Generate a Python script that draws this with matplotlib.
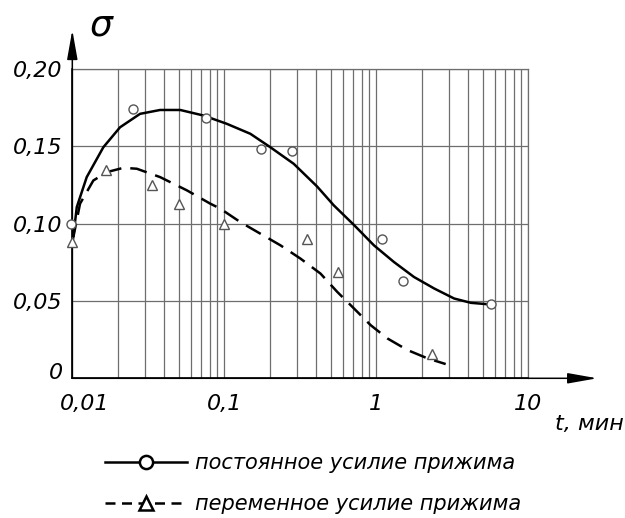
import matplotlib
matplotlib.use("Agg")
import matplotlib.pyplot as plt
import matplotlib.transforms as mtransforms
from matplotlib.lines import Line2D
from matplotlib.ticker import LogLocator, NullFormatter

# measured points, constant clamping force (circles)
t_const = [0.0098, 0.0252, 0.0757, 0.175, 0.279, 1.084, 1.507, 5.67]
s_const = [0.100, 0.174, 0.168, 0.148, 0.147, 0.090, 0.063, 0.048]

# measured points, variable clamping force (triangles)
t_var = [0.010, 0.0166, 0.0333, 0.050, 0.100, 0.351, 0.563, 2.34]
s_var = [0.088, 0.135, 0.125, 0.113, 0.100, 0.090, 0.069, 0.016]

# fitted curves
curve_const_t = [0.01015, 0.0107, 0.01244, 0.0160, 0.0206, 0.0279, 0.0378,
                 0.0513, 0.0731, 0.1042, 0.1484, 0.2009, 0.2862, 0.408,
                 0.5254, 0.712, 0.964, 1.306, 1.77, 2.40, 3.25, 4.19, 5.39]
curve_const_s = [0.0914, 0.1107, 0.1301, 0.1494, 0.1623, 0.1710, 0.1735,
                 0.1735, 0.1699, 0.1645, 0.1581, 0.1494, 0.1387, 0.1240,
                 0.1118, 0.0992, 0.0860, 0.0752, 0.0655, 0.0581, 0.0516,
                 0.0488, 0.0479]

curve_var_t = [0.01006, 0.01124, 0.01375, 0.01686, 0.02168, 0.02658, 0.0378,
               0.0568, 0.0809, 0.0941, 0.1275, 0.1727, 0.2339, 0.317, 0.4295,
               0.553, 0.712, 0.917, 1.182, 1.60, 2.17, 2.86]
curve_var_s = [0.0892, 0.1129, 0.1279, 0.1333, 0.1361, 0.1355, 0.1301,
               0.1215, 0.1129, 0.1097, 0.1010, 0.0935, 0.0860, 0.0774,
               0.0677, 0.0559, 0.0452, 0.0344, 0.0258, 0.0183, 0.0129,
               0.0092]

x_ticks = [0.01, 0.1, 1, 10]
x_labels = ["0,01", "0,1", "1", "10"]
y_ticks = [0, 0.05, 0.10, 0.15, 0.20]
y_labels = ["0", "0,05", "0,10", "0,15", "0,20"]

legend_labels = ["постоянное усилие прижима", "переменное усилие прижима"]

plt.rcParams["font.family"] = ["DejaVu Sans"]
plt.rcParams["font.style"] = "italic"

fig = plt.figure(figsize=(6.25, 5.18), dpi=100)
ax = fig.add_axes([0.1157, 0.2697, 0.7296, 0.5971])

ax.set_xscale("log")
ax.set_xlim(0.01, 10)
ax.set_ylim(0, 0.20)

# log grid
ax.xaxis.set_major_locator(LogLocator(base=10))
ax.xaxis.set_minor_locator(LogLocator(base=10, subs=range(2, 10)))
ax.xaxis.set_minor_formatter(NullFormatter())
ax.grid(True, which="both", axis="x", color="#6e6e6e", lw=0.9)
ax.grid(True, which="major", axis="y", color="#6e6e6e", lw=0.9)
ax.set_axisbelow(True)

for side in ("top", "right"):
    ax.spines[side].set_color("#6e6e6e")
    ax.spines[side].set_linewidth(0.9)
for side in ("left", "bottom"):
    ax.spines[side].set_color("black")
    ax.spines[side].set_linewidth(1.1)

ax.set_xticks(x_ticks)
ax.set_xticklabels(x_labels)
ax.set_yticks(y_ticks)
ax.set_yticklabels(y_labels)
ax.tick_params(which="both", length=0)
ax.tick_params(axis="x", pad=11, labelsize=16)
ax.tick_params(axis="y", pad=7, labelsize=16)

# nudge first x label right and the zero y label up, as on the drawing
lab0 = ax.get_xticklabels()[0]
lab0.set_transform(lab0.get_transform() +
                   mtransforms.ScaledTranslation(12 / 100, 0, fig.dpi_scale_trans))
ylab0 = ax.get_yticklabels()[0]
ylab0.set_transform(ylab0.get_transform() +
                    mtransforms.ScaledTranslation(0, 7 / 100, fig.dpi_scale_trans))

# curves
ax.plot(curve_const_t, curve_const_s, color="black", lw=1.8,
        solid_capstyle="butt", solid_joinstyle="round", zorder=3)
ax.plot(curve_var_t, curve_var_s, color="black", lw=1.8,
        linestyle=(0, (6.8, 3.6)), dash_capstyle="butt",
        dash_joinstyle="round", zorder=3)

# measured points
ax.plot(t_const, s_const, linestyle="none", marker="o", ms=6.5,
        mfc="white", mec="#555555", mew=1.0, zorder=4, clip_on=False)
ax.plot(t_var, s_var, linestyle="none", marker="^", ms=7.5,
        mfc="white", mec="#555555", mew=1.0, zorder=4, clip_on=False)

# axis arrows
arrow = dict(arrowstyle="-|>,head_length=0.9,head_width=0.16",
             color="black", lw=1.1, mutation_scale=20, shrinkA=0, shrinkB=0)
ax.annotate("", xy=(1.151, 0), xytext=(0, 0), xycoords="axes fraction",
            textcoords="axes fraction", arrowprops=arrow, annotation_clip=False)
ax.annotate("", xy=(0, 1.126), xytext=(0, 0), xycoords="axes fraction",
            textcoords="axes fraction", arrowprops=arrow, annotation_clip=False)

fig.text(101 / 625, 1 - 25 / 518, "σ", fontsize=26, ha="center", va="center")
fig.text(555 / 625, 1 - 430 / 518, "t, мин", fontsize=16, ha="left",
         va="baseline")

handles = [
    Line2D([], [], color="black", lw=1.8, marker="o", ms=9.5,
           mfc="white", mec="black", mew=1.8),
    Line2D([], [], color="black", lw=1.8, linestyle=(0, (4.0, 2.6)),
           marker="^", ms=10, mfc="white", mec="black", mew=1.8),
]
fig.legend(handles, legend_labels, loc="upper left",
           bbox_to_anchor=(105 / 625, 1 - 453 / 518), frameon=False,
           fontsize=15, handlelength=3.94, handletextpad=0.4,
           labelspacing=1.0, borderpad=0, borderaxespad=0)

fig.savefig("out.png", dpi=100)
